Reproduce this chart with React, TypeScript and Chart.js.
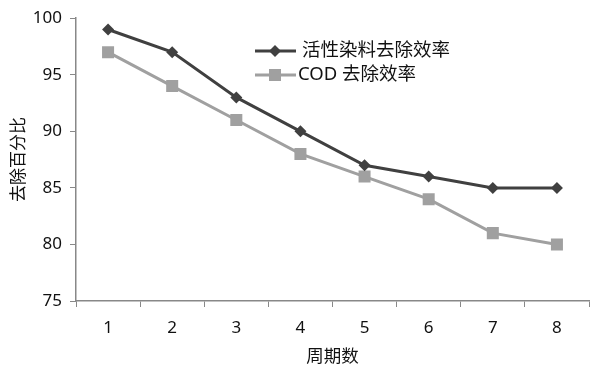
import React, { useEffect, useRef } from "react";
import { Chart, registerables } from "chart.js";

Chart.register(...registerables);

const categories = ["1", "2", "3", "4", "5", "6", "7", "8"];
const dyeRemoval = [99, 97, 93, 90, 87, 86, 85, 85];
const codRemoval = [97, 94, 91, 88, 86, 84, 81, 80];
const seriesNames = ["活性染料去除效率", "COD 去除效率"];
const yTitle = "去除百分比";
const xTitle = "周期数";

const DARK = "#404040";
const LIGHT = "#a0a0a0";
const FONT = '"Noto Sans", "Noto Sans CJK SC", sans-serif';

const legendPlugin = {
  id: "customLegend",
  afterDraw(chart: any) {
    const ctx = chart.ctx;
    const rows = [
      { name: seriesNames[0], color: DARK, diamond: true, y: 51 },
      { name: seriesNames[1], color: LIGHT, diamond: false, y: 75 },
    ];
    ctx.save();
    rows.forEach((row) => {
      ctx.strokeStyle = row.color;
      ctx.lineWidth = 3;
      ctx.beginPath();
      ctx.moveTo(255, row.y);
      ctx.lineTo(296, row.y);
      ctx.stroke();
      ctx.fillStyle = row.color;
      ctx.beginPath();
      if (row.diamond) {
        const r = 6;
        ctx.moveTo(275 - r, row.y);
        ctx.lineTo(275, row.y - r);
        ctx.lineTo(275 + r, row.y);
        ctx.lineTo(275, row.y + r);
        ctx.closePath();
      } else {
        ctx.rect(269, row.y - 6, 12, 12);
      }
      ctx.fill();
      ctx.fillStyle = "#111";
      ctx.font = "18.5px " + FONT;
      ctx.textBaseline = "middle";
      ctx.textAlign = "left";
      ctx.fillText(row.name, row.diamond ? 302 : 298, row.y);
    });
    ctx.restore();
  },
};

export default function App() {
  const ref = useRef<HTMLCanvasElement>(null);
  useEffect(() => {
    if (!ref.current) return;
    const chart = new Chart(ref.current, {
      type: "line",
      data: {
        labels: categories,
        datasets: [
          {
            label: seriesNames[0],
            data: dyeRemoval,
            borderColor: DARK,
            backgroundColor: DARK,
            borderWidth: 3,
            pointStyle: "rectRot",
            pointRadius: 6,
            pointBorderWidth: 0,
            pointBackgroundColor: DARK,
            tension: 0,
          },
          {
            label: seriesNames[1],
            data: codRemoval,
            borderColor: LIGHT,
            backgroundColor: LIGHT,
            borderWidth: 3,
            pointStyle: "rect",
            pointRadius: 8.5,
            pointBorderWidth: 0,
            pointBackgroundColor: LIGHT,
            tension: 0,
          },
        ],
      },
      options: {
        animation: false,
        responsive: true,
        maintainAspectRatio: false,
        layout: { padding: { top: 15, right: 11, left: 0, bottom: 0 } },
        plugins: { legend: { display: false }, tooltip: { enabled: false } },
        scales: {
          x: {
            type: "category",
            offset: true,
            grid: { offset: true, drawOnChartArea: false, drawTicks: true, tickLength: 6, color: "#888" },
            border: { color: "#888", width: 1.5 },
            ticks: { color: "#111", font: { family: FONT, size: 17 }, padding: 11 },
            title: { display: true, text: xTitle, color: "#111", font: { family: FONT, size: 17.5 }, padding: { top: 4, bottom: 6 } },
            afterFit: (s: any) => { s.height = 73; },
          },
          y: {
            min: 75,
            max: 100,
            ticks: { stepSize: 5, color: "#111", font: { family: FONT, size: 17 }, padding: 8 },
            grid: { drawOnChartArea: false, drawTicks: true, tickLength: 6, color: "#888" },
            border: { color: "#888", width: 1.5 },
            title: { display: true, text: yTitle, color: "#111", font: { family: FONT, size: 17 }, padding: { top: 9, bottom: 4 } },
            afterFit: (s: any) => { s.width = 76; },
          },
        },
      },
      plugins: [legendPlugin],
    });
    return () => chart.destroy();
  }, []);
  return (
    <div style={{ position: "absolute", left: 0, top: 0, width: 600, height: 374, background: "#fff" }}>
      <canvas ref={ref} />
    </div>
  );
}
